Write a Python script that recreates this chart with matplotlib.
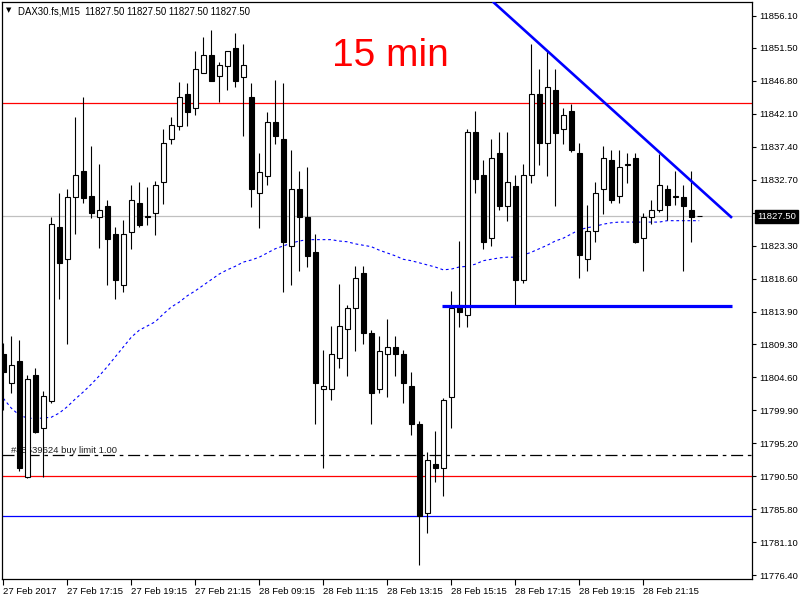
import matplotlib
matplotlib.use("Agg")
import matplotlib.pyplot as plt
from matplotlib.patches import Rectangle

plt.rcParams['font.family'] = ['Liberation Sans', 'DejaVu Sans']

# DAX30.fs M15 bars, 27 Feb 2017 15:15 .. 28 Feb 2017
opens = [11807.9, 11803.8, 11806.9, 11790.4, 11804.9, 11797.4, 11801.2, 11826.0, 11821.4, 11830.3,
         11834.0, 11830.4, 11827.4, 11829.0, 11825.0, 11817.8, 11825.3, 11829.4, 11827.4, 11828.0,
         11832.4, 11838.5, 11840.4, 11844.9, 11842.9, 11848.0, 11850.5, 11847.5, 11849.0, 11851.5,
         11847.4, 11844.5, 11830.9, 11833.3, 11841.0, 11838.5, 11823.3, 11831.4, 11827.4, 11822.4,
         11802.9, 11802.9, 11807.3, 11811.4, 11814.4, 11819.4, 11810.9, 11802.9, 11807.9, 11808.9,
         11807.9, 11803.3, 11797.9, 11785.3, 11792.3, 11791.7, 11801.8, 11814.9, 11813.4, 11839.5,
         11833.4, 11824.4, 11836.5, 11829.0, 11831.9, 11818.4, 11833.4, 11844.9, 11837.9, 11845.5,
         11839.9, 11842.5, 11836.5, 11821.4, 11825.4, 11831.4, 11835.5, 11830.4, 11834.9, 11835.9,
         11824.4, 11827.4, 11828.4, 11831.4, 11830.3, 11830.3, 11828.4, 11827.5]
highs = [11809.5, 11810.5, 11809.9, 11804.9, 11805.9, 11802.6, 11827.4, 11830.9, 11831.4, 11841.6,
         11844.5, 11837.5, 11835.0, 11829.8, 11826.0, 11827.0, 11832.0, 11832.4, 11831.7, 11832.5,
         11840.0, 11841.6, 11846.6, 11846.5, 11851.1, 11853.0, 11854.1, 11849.5, 11851.1, 11853.6,
         11852.1, 11846.5, 11836.5, 11842.4, 11846.9, 11846.5, 11837.0, 11834.0, 11834.6, 11825.0,
         11808.5, 11811.9, 11817.9, 11814.9, 11820.4, 11820.4, 11811.3, 11810.5, 11812.9, 11810.5,
         11808.5, 11805.3, 11798.3, 11793.9, 11796.9, 11801.6, 11816.9, 11824.0, 11839.9, 11842.5,
         11835.5, 11838.5, 11839.5, 11839.5, 11833.4, 11835.0, 11852.0, 11848.5, 11851.0, 11848.5,
         11842.9, 11843.5, 11837.9, 11829.1, 11832.4, 11837.5, 11836.9, 11836.9, 11836.5, 11836.5,
         11828.0, 11829.8, 11836.4, 11832.0, 11834.0, 11832.0, 11834.0, 11827.5]
lows = [11799.9, 11802.3, 11791.2, 11790.3, 11796.7, 11790.4, 11800.9, 11815.7, 11809.4, 11825.0,
        11829.4, 11827.3, 11823.0, 11817.8, 11815.7, 11816.8, 11822.9, 11826.0, 11826.3, 11824.9,
        11829.3, 11837.8, 11839.8, 11840.4, 11841.9, 11848.0, 11846.8, 11843.8, 11845.5, 11845.9,
        11838.9, 11828.9, 11825.9, 11832.0, 11837.8, 11816.8, 11817.8, 11819.8, 11820.3, 11797.9,
        11791.7, 11801.4, 11805.9, 11804.8, 11808.4, 11809.4, 11797.9, 11802.3, 11801.8, 11804.8,
        11800.9, 11796.4, 11777.8, 11782.4, 11789.7, 11787.7, 11797.3, 11811.8, 11811.8, 11830.9,
        11822.9, 11823.3, 11828.4, 11826.9, 11814.8, 11818.0, 11832.3, 11834.9, 11833.3, 11829.0,
        11837.8, 11836.7, 11818.8, 11819.8, 11823.9, 11827.9, 11829.4, 11829.4, 11832.3, 11823.7,
        11819.8, 11826.4, 11828.1, 11827.0, 11829.1, 11819.8, 11823.9, 11827.5]
closes = [11805.3, 11806.3, 11791.7, 11804.4, 11796.8, 11801.9, 11826.4, 11820.9, 11830.3, 11833.4,
          11830.1, 11828.0, 11828.4, 11824.3, 11818.4, 11825.0, 11829.8, 11826.3, 11827.5, 11832.0,
          11837.9, 11840.5, 11844.5, 11842.4, 11848.5, 11850.5, 11846.8, 11849.1, 11851.1, 11846.8,
          11849.1, 11831.4, 11833.9, 11840.9, 11838.9, 11823.9, 11831.4, 11827.4, 11821.9, 11803.8,
          11803.3, 11807.9, 11811.9, 11814.4, 11818.8, 11810.9, 11802.3, 11808.4, 11808.9, 11807.9,
          11803.8, 11797.9, 11784.8, 11792.8, 11791.7, 11801.4, 11814.4, 11813.9, 11839.5, 11832.8,
          11823.9, 11835.9, 11829.0, 11832.4, 11818.4, 11833.4, 11844.9, 11837.9, 11845.9, 11839.4,
          11841.9, 11836.9, 11822.0, 11825.4, 11830.9, 11835.9, 11829.8, 11834.5, 11835.0, 11823.9,
          11827.4, 11828.4, 11832.0, 11829.1, 11830.4, 11829.0, 11827.4, 11827.5]
ma = [11801.6, 11800.2, 11799.2, 11798.8, 11798.7, 11798.8, 11798.9, 11799.5, 11800.4, 11801.5,
      11802.5, 11803.6, 11804.8, 11806.1, 11807.5, 11808.9, 11810.3, 11811.3, 11811.9, 11812.5,
      11813.6, 11814.6, 11815.3, 11816.2, 11816.9, 11817.7, 11818.5, 11819.3, 11819.9, 11820.4,
      11821.0, 11821.3, 11821.7, 11822.3, 11822.9, 11823.3, 11823.7, 11824.0, 11824.2, 11824.2,
      11824.2, 11824.2, 11824.0, 11823.9, 11823.6, 11823.4, 11823.2, 11822.7, 11822.3, 11821.9,
      11821.4, 11821.2, 11820.9, 11820.6, 11820.3, 11819.9, 11820.0, 11820.3, 11820.4, 11820.7,
      11821.2, 11821.4, 11821.6, 11821.7, 11821.7, 11822.0, 11822.4, 11822.9, 11823.4, 11824.0,
      11824.4, 11825.0, 11825.6, 11825.9, 11826.1, 11826.4, 11826.6, 11826.7, 11826.7, 11826.7,
      11826.7, 11826.7, 11826.7, 11826.9, 11826.9, 11826.9, 11826.9, 11826.9]

time_labels = ["27 Feb 2017", "27 Feb 17:15", "27 Feb 19:15", "27 Feb 21:15", "28 Feb 09:15",
               "28 Feb 11:15", "28 Feb 13:15", "28 Feb 15:15", "28 Feb 17:15", "28 Feb 19:15",
               "28 Feb 21:15"]
price_ticks = [11856.1, 11851.5, 11846.8, 11842.1, 11837.4, 11832.7, 11828.0, 11823.3, 11818.6,
               11813.9, 11809.3, 11804.6, 11799.9, 11795.2, 11790.5, 11785.8, 11781.1, 11776.4]

# horizontal levels
red_level_top = 11843.6
bid_level = 11827.5
buy_limit = 11793.5
red_level_low = 11790.6
blue_level = 11784.8
# drawn trend lines (bar index, price)
trend_down = [(61.2, 11858.1), (91.1, 11827.3)]
support = [(54.9, 11814.7), (91.1, 11814.7)]

fig = plt.figure(figsize=(8, 6), dpi=100)
ax = fig.add_axes([2 / 800, 21 / 600, 750 / 800, 577 / 600])

n = len(opens)
for lvl, col in [(red_level_top, "#ff0000"), (bid_level, "#c0c0c0"),
                 (red_level_low, "#ff0000"), (blue_level, "#0000ff")]:
    ax.axhline(lvl, color=col, lw=0.9, zorder=1)
ax.axhline(buy_limit, color="black", lw=0.9, dashes=(9.6, 3.8, 2.9, 3.8), zorder=1)
ax.text(1.0, buy_limit + 0.3, "#45539624 buy limit 1.00", fontsize=6.8, color="#202020",
        ha="left", va="baseline", zorder=1.5)

ax.plot(range(n), ma, color="#0000ff", lw=0.8, dashes=(2.5, 2.5), zorder=2)

# candles
for i in range(n):
    o, h, l, c = opens[i], highs[i], lows[i], closes[i]
    ax.vlines(i, l, h, color="black", lw=0.8, zorder=3)
    bull = c >= o
    ax.add_patch(Rectangle((i - 0.3, min(o, c)), 0.6, abs(c - o),
                           facecolor="white" if bull else "black",
                           edgecolor="black", lw=0.8, zorder=4))

ax.plot([p[0] for p in trend_down], [p[1] for p in trend_down], color="#0000ff", lw=1.9,
        zorder=5, solid_capstyle="butt")
ax.plot([p[0] for p in support], [p[1] for p in support], color="#0000ff", lw=2.3,
        zorder=5, solid_capstyle="butt")

ax.set_xlim(-0.16, 93.6)
ax.set_ylim(11775.86, 11858.05)

ax.set_xticks(range(0, 8 * len(time_labels), 8))
ax.set_xticklabels(time_labels, ha="left")
ax.yaxis.tick_right()
ax.set_yticks(price_ticks)
ax.set_yticklabels(["%.2f" % v for v in price_ticks])
ax.tick_params(axis="x", direction="out", length=4, width=0.8, pad=2, labelsize=6.8)
ax.tick_params(axis="y", direction="out", length=3, width=0.8, pad=2, labelsize=6.8)
for s in ax.spines.values():
    s.set_linewidth(0.9)
    s.set_color("black")

# current price box (covers the 11828.00 label as in the terminal)
ax.annotate("11827.50", xy=(1, bid_level), xycoords=("axes fraction", "data"),
            xytext=(5, 0), textcoords="offset pixels", ha="left", va="center",
            color="white", fontsize=6.8, annotation_clip=False, zorder=10,
            bbox=dict(boxstyle="square,pad=0.25", fc="black", ec="black"))

# header and label
fig.text(9 / 800, 1 - 10.5 / 600, "▼", fontsize=5, family="DejaVu Sans",
         ha="center", va="center")
fig.text(18 / 800, 1 - 14 / 600, "DAX30.fs,M15  11827.50 11827.50 11827.50 11827.50",
         fontsize=6.9, ha="left", va="baseline")
fig.text(390 / 800, 1 - 66.5 / 600, "15 min", fontsize=28, color="#ff0000",
         ha="center", va="baseline")

fig.savefig("out.png", dpi=100)
